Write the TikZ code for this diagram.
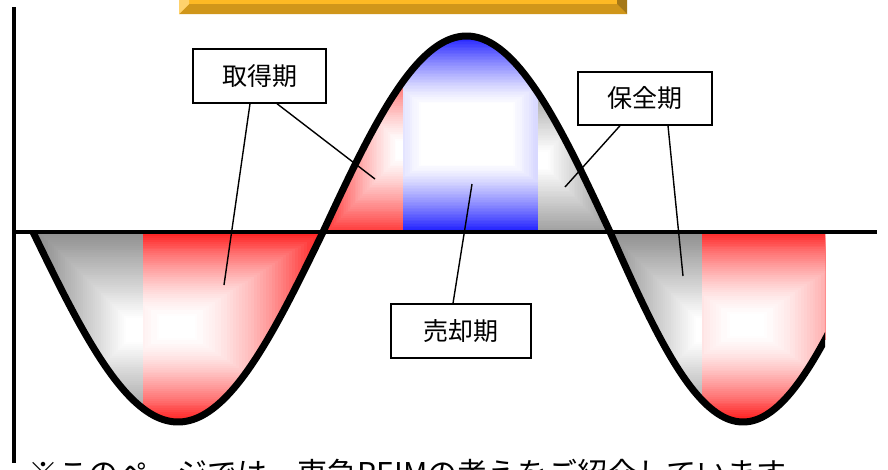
\documentclass[tikz,border=0pt]{standalone}
\usepackage{fontspec}
\newfontfamily\jp{Noto Sans CJK JP}
\definecolor{gred}{HTML}{FF1F1F}
\definecolor{gblue}{HTML}{1F1FFF}
\definecolor{ggray}{HTML}{8C8C8C}
\definecolor{goldface}{HTML}{FDB924}
\definecolor{goldbot}{HTML}{D0961A}
\definecolor{goldleft}{HTML}{FFD26C}
\definecolor{goldright}{HTML}{A57817}
% #1 cx, #2 cy, #3 half width, #4 half height, #5 core fraction, #6 colour, #7 profile exponent
\newcommand{\rectgrad}[7]{%
  \fill[#6] ({#1-2*#3},{#2-2*#4}) rectangle ({#1+2*#3},{#2+2*#4});
  \foreach \i in {1,...,45}{%
    \pgfmathsetmacro{\gT}{1-(\i/45)*(1-#5)}%
    \pgfmathtruncatemacro{\gP}{100*(1-\i/45)^#7}%
    \fill[#6!\gP!white] ({#1-\gT*#3},{#2-\gT*#4}) rectangle ({#1+\gT*#3},{#2+\gT*#4});
  }%
}
\tikzset{
  lbl/.style={draw=black, line width=1.4pt, fill=white, minimum width=134pt,
    minimum height=54pt, inner sep=0pt, font=\jp\fontsize{25}{30}\selectfont},
  lead/.style={line width=1.4pt, draw=black},
  wave/.style={line width=7pt, draw=black, line join=round},
  axisline/.style={line width=4pt, draw=black},
}
\begin{document}
\begin{tikzpicture}[x=1pt,y=-1pt]
\useasboundingbox (0,0) rectangle (888,469);
\clip (0,0) rectangle (888,469);
\fill[white] (0,0) rectangle (888,469);

% title box (cut off at top)
\fill[goldface] (179,-20) rectangle (627,14);
\fill[goldbot] (179,14) -- (627,14) -- (617,4) -- (189,4) -- cycle;
\fill[goldleft] (179,-20) -- (189,-10) -- (189,4) -- (179,14) -- cycle;
\fill[goldright] (627,-20) -- (617,-10) -- (617,4) -- (627,14) -- cycle;

% trough 1
\begin{scope}
  \clip (33,232) -- plot[domain=33:323, samples=90] (\x,{232+190*sin((\x-33)/290*180)}) -- cycle;
  \begin{scope}
    \clip (0,200) rectangle (143,469);
    \rectgrad{138}{330}{100}{100}{0.12}{ggray}{1.0}
  \end{scope}
  \begin{scope}
    \clip (143,200) rectangle (400,469);
    \rectgrad{177}{327}{145}{95}{0.08}{gred}{1.6}
  \end{scope}
\end{scope}

% hump
\begin{scope}
  \clip (323,232) -- plot[domain=323:610, samples=90] (\x,{232-196*sin((\x-323)/287*180)}) -- cycle;
  \begin{scope}
    \clip (300,0) rectangle (403,240);
    \rectgrad{405}{150}{85}{90}{0.08}{gred}{1.3}
  \end{scope}
  \begin{scope}
    \clip (403,0) rectangle (538,240);
    \rectgrad{467}{134}{145}{98}{0.3}{gblue}{1.3}
  \end{scope}
  \begin{scope}
    \clip (538,0) rectangle (640,240);
    \rectgrad{540}{160}{80}{85}{0.1}{ggray}{1.0}
  \end{scope}
\end{scope}

% trough 2
\begin{scope}
  \clip (610,232) -- plot[domain=610:825, samples=80] (\x,{232+190*sin((\x-610)/266*180)}) -- (825,232) -- cycle;
  \begin{scope}
    \clip (590,200) rectangle (702,469);
    \rectgrad{708}{330}{100}{100}{0.12}{ggray}{1.0}
  \end{scope}
  \begin{scope}
    \clip (702,200) rectangle (825,469);
    \rectgrad{747}{325}{140}{95}{0.08}{gred}{1.6}
  \end{scope}
\end{scope}

% axes
\draw[axisline] (14,7) -- (14,463);
\draw[axisline] (14,232) -- (877,232);

% wave
\begin{scope}
  \clip (0,0) rectangle (825,469);
  \draw[wave] plot[domain=33:323, samples=90] (\x,{232+190*sin((\x-33)/290*180)})
    -- plot[domain=323:610, samples=90] (\x,{232-196*sin((\x-323)/287*180)})
    -- plot[domain=610:830, samples=80] (\x,{232+190*sin((\x-610)/266*180)});
\end{scope}

% labels
\node[lbl, minimum width=133pt] (tk) at (259.5,76) {取得期};
\node[lbl, minimum width=140pt] (sk) at (461,331) {売却期};
\node[lbl, minimum width=134pt, minimum height=53pt] (hk) at (645,98.5) {保全期};

\coordinate (tkA) at (224,285);
\coordinate (tkB) at (375,179);
\coordinate (skA) at (472,184);
\coordinate (hkA) at (565,187);
\coordinate (hkB) at (683,276);

\draw[lead] ([xshift=-9.5pt]tk.south) -- (tkA);
\draw[lead] ([xshift=17.5pt]tk.south) -- (tkB);
\draw[lead] ([xshift=-8pt]sk.north) -- (skA);
\draw[lead] ([xshift=-25pt]hk.south) -- (hkA);
\draw[lead] ([xshift=23pt]hk.south) -- (hkB);

% footnote (cut off at bottom, as in the reference)
\node[anchor=base west, inner sep=0pt, font=\jp\fontsize{30}{36}\selectfont] (note) at (28,484)
  {※このページでは、東急REIMの考えをご紹介しています。};
\end{tikzpicture}
\end{document}
